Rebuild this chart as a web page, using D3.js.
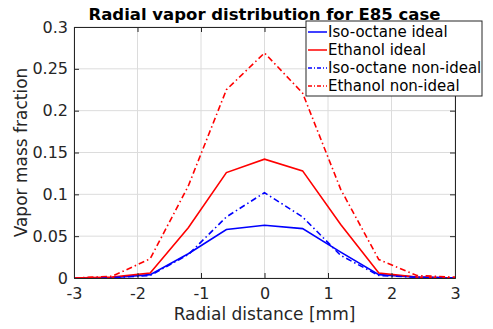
<!DOCTYPE html>
<html>
<head>
<meta charset="utf-8">
<script src="https://cdn.jsdelivr.net/npm/d3@7"></script>
<style>
  body { margin: 0; background: #fff; }
  svg { font-family: "DejaVu Sans", sans-serif; }
</style>
</head>
<body>
<div id="chart"></div>
<script>
// radial positions [mm]
const radius = [-3, -2.4, -1.8, -1.2, -0.6, 0, 0.6, 1.2, 1.8, 2.4, 3];
const isoIdeal = [0, 0.0005, 0.004, 0.029, 0.058, 0.063, 0.059, 0.031, 0.004, 0.001, 0];
const ethIdeal = [0, 0.001, 0.006, 0.060, 0.126, 0.142, 0.128, 0.064, 0.006, 0.001, 0];
const isoNonIdeal = [0, 0.0005, 0.003, 0.028, 0.073, 0.102, 0.073, 0.027, 0.003, 0.001, 0];
const ethNonIdeal = [0, 0.002, 0.023, 0.110, 0.225, 0.269, 0.221, 0.106, 0.022, 0.003, 0.001];
const xTicks = [-3, -2, -1, 0, 1, 2, 3];
const yTicks = [0, 0.05, 0.1, 0.15, 0.2, 0.25, 0.3];

const series = [
  { name: 'Iso-octane ideal', values: isoIdeal, color: '#0000ff', dash: null },
  { name: 'Ethanol ideal', values: ethIdeal, color: '#ff0000', dash: null },
  { name: 'Iso-octane non-ideal', values: isoNonIdeal, color: '#0000ff', dash: '6,3,1.5,3' },
  { name: 'Ethanol non-ideal', values: ethNonIdeal, color: '#ff0000', dash: '6,3,1.5,3' }
];

const W = 493, H = 329;
const margin = { top: 27, right: 38, bottom: 51, left: 74 };
const w = W - margin.left - margin.right;
const h = H - margin.top - margin.bottom;

const svg = d3.select('#chart').append('svg')
  .attr('width', W).attr('height', H);

const g = svg.append('g').attr('transform', `translate(${margin.left},${margin.top})`);

const x = d3.scaleLinear().domain([-3, 3]).range([0, w]);
const y = d3.scaleLinear().domain([0, 0.3]).range([h, 0]);

// grid
g.append('g').selectAll('line').data(xTicks).enter().append('line')
  .attr('x1', d => x(d)).attr('x2', d => x(d)).attr('y1', 0).attr('y2', h)
  .attr('stroke', '#dcdcdc').attr('stroke-width', 1);
g.append('g').selectAll('line').data(yTicks).enter().append('line')
  .attr('x1', 0).attr('x2', w).attr('y1', d => y(d)).attr('y2', d => y(d))
  .attr('stroke', '#dcdcdc').attr('stroke-width', 1);

// lines
const line = d3.line().x((d, i) => x(radius[i])).y(d => y(d));
series.forEach(s => {
  g.append('path').datum(s.values)
    .attr('d', line)
    .attr('fill', 'none')
    .attr('stroke', s.color)
    .attr('stroke-width', 1.6)
    .attr('stroke-dasharray', s.dash);
});

// axes
const axisColor = '#262626';
g.append('g').attr('transform', `translate(0,${h})`)
  .call(d3.axisBottom(x).tickValues(xTicks).tickSize(-5).tickPadding(10).tickFormat(d => String(d)));
g.append('g')
  .call(d3.axisLeft(y).tickValues(yTicks).tickSize(-5).tickPadding(6).tickFormat(d => String(d)));
g.append('g').attr('transform', `translate(${w},0)`)
  .call(d3.axisRight(y).tickValues(yTicks).tickSize(-5).tickFormat(''));
g.append('g')
  .call(d3.axisTop(x).tickValues(xTicks).tickSize(-5).tickFormat(''));

g.selectAll('.domain').attr('stroke', axisColor).attr('stroke-width', 1);
g.selectAll('.tick line').attr('stroke', axisColor);
g.selectAll('.tick text').attr('fill', axisColor).style('font-size', '16px')
  .style('font-family', '"DejaVu Sans", sans-serif');

// title
svg.append('text')
  .attr('x', margin.left + w / 2).attr('y', 20)
  .attr('text-anchor', 'middle')
  .style('font-size', '16.5px').style('font-weight', 'bold')
  .attr('fill', '#000')
  .text('Radial vapor distribution for E85 case');

// axis labels
svg.append('text')
  .attr('x', margin.left + w / 2).attr('y', 320)
  .attr('text-anchor', 'middle')
  .style('font-size', '17px').attr('fill', axisColor)
  .text('Radial distance [mm]');
svg.append('text')
  .attr('transform', `translate(27,${margin.top + h / 2}) rotate(-90)`)
  .attr('text-anchor', 'middle')
  .style('font-size', '17px').attr('fill', axisColor)
  .text('Vapor mass fraction');

// legend
const lg = svg.append('g').attr('transform', 'translate(306,21)');
lg.append('rect').attr('width', 176).attr('height', 75)
  .attr('fill', '#fff').attr('stroke', '#262626').attr('stroke-width', 1);
series.forEach((s, i) => {
  const yy = 11 + i * 18;
  lg.append('line').attr('x1', 2).attr('x2', 21).attr('y1', yy).attr('y2', yy)
    .attr('stroke', s.color).attr('stroke-width', 1.5).attr('stroke-dasharray', s.dash ? '4,2,1,2' : null);
  lg.append('text').attr('x', 22).attr('y', yy + 5)
    .style('font-size', '15px').attr('fill', '#000').text(s.name);
});
</script>
</body>
</html>
